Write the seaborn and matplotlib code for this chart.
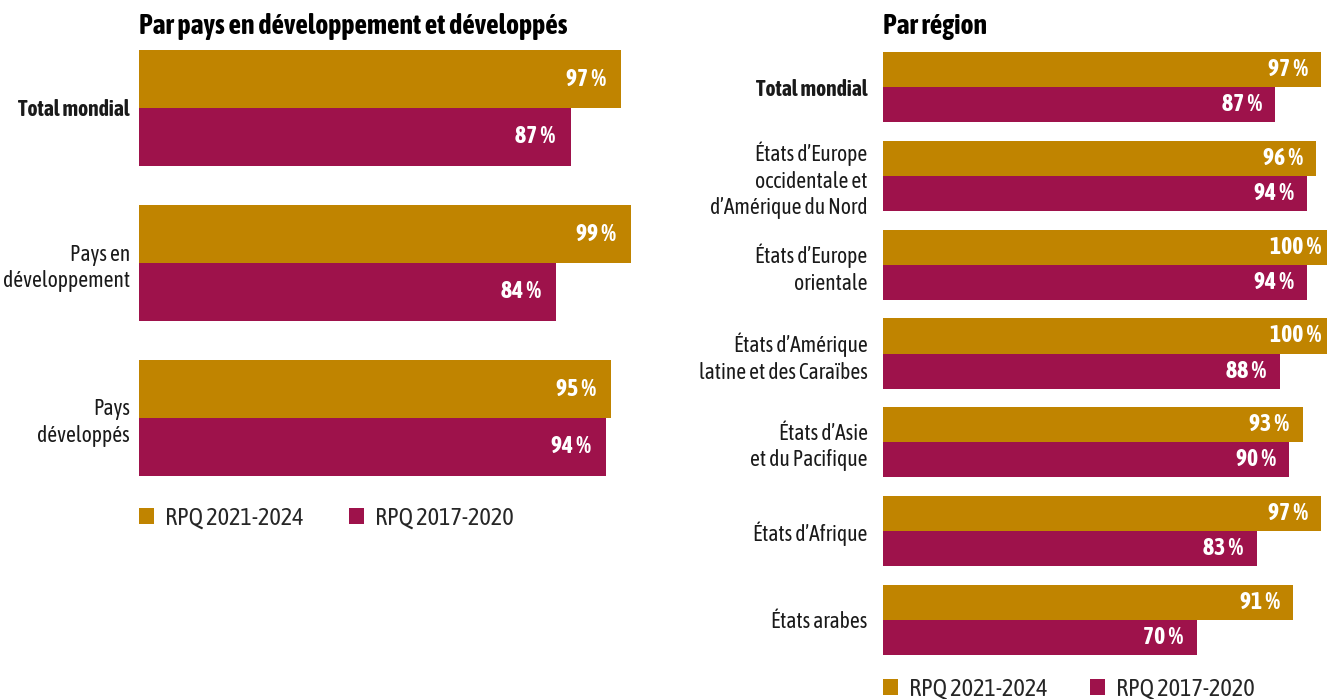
import matplotlib
matplotlib.use("Agg")
import matplotlib.pyplot as plt
from matplotlib import font_manager
from matplotlib.patches import Patch
import pandas as pd
import seaborn as sns

# --- data -----------------------------------------------------------------
periods = ["RPQ 2021-2024", "RPQ 2017-2020"]

dev_categories = ["Total mondial", "Pays en\ndéveloppement", "Pays\ndéveloppés"]
dev_recent = [97, 99, 95]
dev_previous = [87, 84, 94]

region_categories = [
    "Total mondial",
    "États d’Europe\noccidentale et\nd’Amérique du Nord",
    "États d’Europe\norientale",
    "États d’Amérique\nlatine et des Caraïbes",
    "États d’Asie\net du Pacifique",
    "États d’Afrique",
    "États arabes",
]
region_recent = [97, 96, 100, 100, 93, 97, 91]
region_previous = [87, 94, 94, 88, 90, 83, 70]

GOLD = "#C08400"
PLUM = "#9E124B"

sns.set_theme(style="white")

# prefer a narrow / condensed sans family that ships both regular and bold
weights = {}
for f in font_manager.fontManager.ttflist:
    n = f.name.lower()
    if ("narrow" in n or "condensed" in n) and "mono" not in n:
        w = f.weight if isinstance(f.weight, int) else 400
        weights.setdefault(f.name, set()).add(w)
narrow = None
for name, ws in sorted(weights.items()):
    if any(w >= 600 for w in ws) and any(350 <= w <= 500 for w in ws):
        narrow = name
        break
if narrow is None and weights:
    narrow = sorted(weights)[0]

if narrow:
    plt.rcParams["font.family"] = [narrow, "DejaVu Sans"]
    FS, FS_VAL, FS_TITLE, FS_LEG = 15.5, 17, 20, 17.5
else:
    plt.rcParams["font.family"] = ["Liberation Sans", "DejaVu Sans"]
    FS, FS_VAL, FS_TITLE, FS_LEG = 13, 14, 15, 13


def long_frame(categories, recent, previous):
    rows = []
    for cat, a, b in zip(categories, recent, previous):
        rows.append({"categorie": cat, "periode": periods[0], "valeur": a})
        rows.append({"categorie": cat, "periode": periods[1], "valeur": b})
    return pd.DataFrame(rows)


def draw_panel(ax, df, categories, width, xlim, pad, label_inset):
    sns.barplot(
        data=df, y="categorie", x="valeur", hue="periode",
        order=categories, hue_order=periods, palette=[GOLD, PLUM],
        orient="h", width=width, saturation=1, linewidth=0,
        legend=False, ax=ax,
    )
    ax.set_xlim(*xlim)
    ax.set_ylim(len(categories) - 0.5, -0.5)
    ax.set_xlabel("")
    ax.set_ylabel("")
    ax.set_xticks([])
    for s in ax.spines.values():
        s.set_visible(False)
    ax.tick_params(axis="y", length=0, pad=pad, labelsize=FS, labelcolor="#1a1a1a")
    for lbl in ax.get_yticklabels():
        lbl.set_linespacing(1.25)
        if lbl.get_text() == "Total mondial":
            lbl.set_fontweight("bold")
    for container in ax.containers:
        for bar in container:
            w = bar.get_width()
            yc = bar.get_y() + bar.get_height() / 2
            ax.annotate(f"{w:.0f} %", xy=(w, yc), xytext=(-label_inset, 0),
                        textcoords="offset points", ha="right", va="center",
                        color="white", fontsize=FS_VAL, fontweight="bold",
                        annotation_clip=False)


W, H = 1327, 699
fig = plt.figure(figsize=(W / 100, H / 100), dpi=100)

# left panel: developing vs developed
ax1 = fig.add_axes([139 / W, 1 - 495.5 / H, 497 / W, 465 / H])
draw_panel(ax1, long_frame(dev_categories, dev_recent, dev_previous),
           dev_categories, 0.745, (0.6, 100), 6.5, 11)

# right panel: by region (the longest bars run past the right edge)
ax2 = fig.add_axes([883 / W, 1 - 664.4 / H, 444 / W, 621.8 / H])
draw_panel(ax2, long_frame(region_categories, region_recent, region_previous),
           region_categories, 0.79, (1.74, 98.3), 11, 9.5)

fig.text(139 / W, 1 - 26 / H, "Par pays en développement et développés",
         fontsize=FS_TITLE, fontweight="bold", ha="left", va="center", color="black")
fig.text(883 / W, 1 - 26 / H, "Par région",
         fontsize=FS_TITLE, fontweight="bold", ha="left", va="center", color="black")

handles = [Patch(facecolor=GOLD, edgecolor="none"), Patch(facecolor=PLUM, edgecolor="none")]
for x0, y0, cs in [(139, 518, 1.85), (883, 689, 1.75)]:
    fig.legend(handles, periods, loc="center left",
               bbox_to_anchor=(x0 / W, 1 - y0 / H), bbox_transform=fig.transFigure,
               ncol=2, frameon=False, fontsize=FS_LEG, handlelength=0.62,
               handleheight=0.62, handletextpad=0.45, columnspacing=cs,
               borderpad=0, borderaxespad=0)

fig.savefig("out.png", dpi=100, facecolor="white")
